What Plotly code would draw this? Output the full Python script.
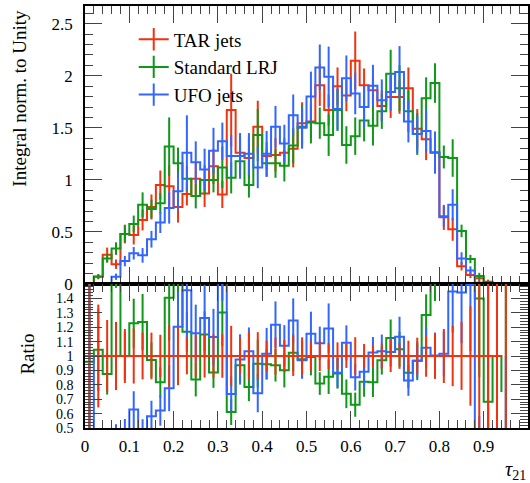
import numpy as np
import plotly.graph_objects as go
from plotly.subplots import make_subplots

# Binning of the tau21 histograms
n_bins = 50
x_lo, x_hi = 0.0, 1.0

# Normalised bin contents
tar_jets = [0.01, 0.07, 0.28, 0.19, 0.48, 0.47, 0.615, 0.74, 0.95, 0.94, 0.74, 0.865, 1.01,
            0.87, 1.13, 0.86, 1.67, 1.26, 1.21, 1.51, 1.23, 1.24, 1.26, 1.30, 1.545,
            1.56, 1.91, 1.67, 1.90, 1.81, 2.145, 1.91, 1.86, 1.71, 1.795, 1.795, 1.88, 1.49, 1.39, 1.26,
            0.64, 0.525, 0.17, 0.087, 0.055, 0.022, 0.008, 0.004, 0.0, 0.0]
standard_lrj = [0.0096, 0.073, 0.245, 0.34, 0.48, 0.577, 0.76, 0.72, 0.776, 1.32, 1.16, 1.01, 0.846,
                1.0, 1.0, 1.12, 1.02, 1.18, 0.95, 1.43, 1.16, 1.16, 1.135, 1.33, 1.51,
                1.55, 1.545, 1.43, 1.67, 1.335, 1.42, 1.57, 1.52, 1.66, 2.02, 1.88, 1.66, 1.44, 1.785, 1.93,
                1.22, 1.21, 0.51, 0.24, 0.077, 0.015, 0.008, 0.003, 0.0, 0.0]
ufo_jets = [0.01, 0.005, 0.01, 0.07, 0.22, 0.295, 0.275, 0.43, 0.59, 0.73, 0.89, 1.26, 1.17,
            1.10, 1.28, 1.37, 1.23, 1.23, 1.25, 1.12, 1.25, 1.51, 1.35, 1.62, 1.50,
            1.80, 2.08, 1.99, 1.68, 1.975, 1.83, 1.70, 1.905, 1.765, 1.845, 2.035, 1.56, 1.44, 1.47, 1.265,
            0.65, 0.76, 0.245, 0.13, 0.012, 0.004, 0.002, 0.001, 0.0, 0.0]

# Statistical uncertainties
tar_err = [0.008, 0.025, 0.07, 0.045, 0.09, 0.09, 0.10, 0.12, 0.14, 0.20, 0.15, 0.11, 0.15,
           0.13, 0.17, 0.13, 0.35, 0.16, 0.20, 0.25, 0.13, 0.16, 0.14, 0.18, 0.20,
           0.16, 0.20, 0.15, 0.18, 0.15, 0.28, 0.16, 0.14, 0.15, 0.20, 0.16, 0.20, 0.19, 0.20, 0.20,
           0.12, 0.11, 0.04, 0.03, 0.03, 0.02, 0.008, 0.004, 0.0, 0.0]
standard_err = [0.008, 0.02, 0.04, 0.06, 0.08, 0.08, 0.12, 0.09, 0.10, 0.28, 0.15, 0.12, 0.12,
                0.14, 0.12, 0.20, 0.15, 0.15, 0.12, 0.25, 0.13, 0.14, 0.15, 0.17, 0.20,
                0.20, 0.15, 0.20, 0.20, 0.18, 0.18, 0.20, 0.19, 0.17, 0.23, 0.22, 0.20, 0.20, 0.20, 0.19,
                0.11, 0.18, 0.06, 0.04, 0.03, 0.02, 0.01, 0.005, 0.0, 0.0]
ufo_err = [0.01, 0.01, 0.01, 0.03, 0.05, 0.06, 0.07, 0.08, 0.10, 0.15, 0.18, 0.36, 0.20,
           0.20, 0.22, 0.18, 0.20, 0.22, 0.20, 0.20, 0.22, 0.20, 0.18, 0.20, 0.20,
           0.24, 0.22, 0.29, 0.20, 0.22, 0.20, 0.20, 0.20, 0.20, 0.18, 0.25, 0.20, 0.18, 0.20, 0.20,
           0.10, 0.15, 0.06, 0.04, 0.02, 0.01, 0.005, 0.003, 0.0, 0.0]

series_names = ["TAR jets", "Standard LRJ", "UFO jets"]
series_colors = ["#EE3311", "#109618", "#3366FF"]

edges = np.linspace(x_lo, x_hi, n_bins + 1)
centers = 0.5 * (edges[:-1] + edges[1:])

ref = np.array(tar_jets)
safe_ref = np.where(ref > 0, ref, np.nan)

values = [np.array(tar_jets), np.array(standard_lrj), np.array(ufo_jets)]
errors = [np.array(tar_err), np.array(standard_err), np.array(ufo_err)]

FONT = "Liberation Serif"

fig = make_subplots(rows=2, cols=1, shared_xaxes=False, vertical_spacing=0)


def clean(arr):
    return [None if np.isnan(v) else float(v) for v in arr]


def add_hist(vals, errs, color, row):
    # step outline over the bin edges
    y = clean(vals)
    fig.add_trace(go.Scatter(x=edges, y=y + [y[-1]], mode="lines",
                             line=dict(color=color, width=2, shape="hv"),
                             showlegend=False, hoverinfo="skip"), row=row, col=1)
    # vertical error bars at the bin centres (points themselves hidden)
    fig.add_trace(go.Scatter(x=centers, y=y, mode="markers",
                             marker=dict(size=2, color=color, opacity=0),
                             error_y=dict(type="data", array=clean(errs), width=0, thickness=2, color=color),
                             showlegend=False, hoverinfo="skip"), row=row, col=1)


# Main panel: normalised distributions
for vals, errs, color in zip(values, errors, series_colors):
    add_hist(vals, errs, color, 1)

# Ratio panel relative to TAR jets, reference drawn last
for idx in [1, 2, 0]:
    vals, errs, color = values[idx], errors[idx], series_colors[idx]
    ratio = vals / safe_ref
    if idx == 0:
        ratio = np.where(ref > 0, 1.0, np.nan)
    add_hist(ratio, errs / safe_ref, color, 2)

# Legend entries: line with a vertical error tick
for name, color in zip(series_names, series_colors):
    fig.add_trace(go.Scatter(x=[None], y=[None], mode="lines+markers", name=name,
                             line=dict(color=color, width=2),
                             marker=dict(symbol="line-ns", size=16, line=dict(color=color, width=2))),
                  row=1, col=1)

tick_common = dict(ticks="inside", tickcolor="#444", tickwidth=1, showline=True, linecolor="black",
                   linewidth=1.5, mirror="allticks", showgrid=False, zeroline=False,
                   tickfont=dict(family=FONT, size=17, color="black"))

fig.update_xaxes(range=[0, 1], tickmode="linear", tick0=0, dtick=0.1, ticklen=17,
                 minor=dict(ticks="inside", dtick=0.02, tick0=0, ticklen=8, tickcolor="#444", showgrid=False),
                 **tick_common)
fig.update_xaxes(showticklabels=False, row=1, col=1)
fig.update_xaxes(ticklabelstandoff=2, row=2, col=1)

fig.update_yaxes(range=[0, 2.67], tickmode="array", tickvals=[0, 0.5, 1, 1.5, 2, 2.5],
                 ticktext=["0", "0.5", "1", "1.5", "2", "2.5"], ticklen=17,
                 minor=dict(ticks="inside", tickmode="linear", dtick=0.1, tick0=0, ticklen=8,
                            tickcolor="#444", showgrid=False),
                 ticklabelstandoff=7, row=1, col=1, **tick_common)
ratio_ticks = [0.5, 0.6, 0.7, 0.8, 0.9, 1.0, 1.1, 1.2, 1.3, 1.4]
fig.update_yaxes(range=[0.5, 1.5], tickmode="array", tickvals=ratio_ticks,
                 ticktext=["0.5", "0.6", "0.7", "0.8", "0.9", "1", "1.1", "1.2", "1.3", "1.4"],
                 ticklen=17,
                 minor=dict(ticks="inside", tickmode="linear", dtick=0.02, tick0=0, ticklen=8,
                            tickcolor="#444", showgrid=False),
                 ticklabelstandoff=7, row=2, col=1, **tick_common)
fig.update_yaxes(tickfont=dict(family=FONT, size=14, color="black"), row=2, col=1)

split = 144 / 422
fig.update_layout(
    width=530, height=483,
    margin=dict(l=85, r=0, t=6, b=55),
    paper_bgcolor="white", plot_bgcolor="white",
    font=dict(family=FONT, color="black"),
    yaxis=dict(domain=[split, 1]),
    yaxis2=dict(domain=[0, split]),
    legend=dict(x=0.11, y=0.966, xanchor="left", yanchor="top", bgcolor="rgba(0,0,0,0)",
                font=dict(family=FONT, size=19, color="black"), borderwidth=0),
    annotations=[
        dict(text="Integral norm. to Unity", textangle=-90, xref="paper", yref="paper",
             x=-0.147, y=0.997, xanchor="center", yanchor="top", showarrow=False,
             font=dict(family=FONT, size=19, color="black")),
        dict(text="Ratio", textangle=-90, xref="paper", yref="paper",
             x=-0.13, y=0.175, xanchor="center", yanchor="middle", showarrow=False,
             font=dict(family=FONT, size=19, color="black")),
        dict(text="<i>τ</i><sub>21</sub>", xref="paper", yref="paper",
             x=1.0, y=-0.1, xanchor="right", yanchor="middle", showarrow=False,
             font=dict(family=FONT, size=20, color="black")),
    ],
)

fig.write_html("out.html")
